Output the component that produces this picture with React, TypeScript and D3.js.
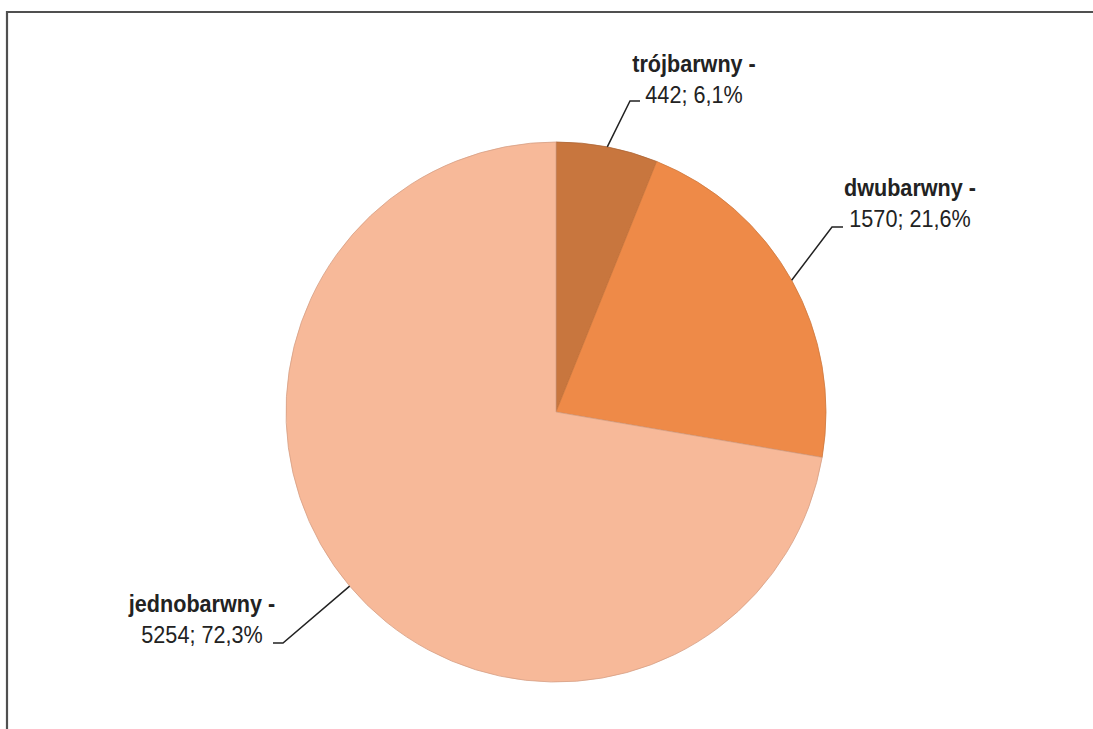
import React from "react";
import * as d3 from "d3";

const categories = ["trójbarwny", "dwubarwny", "jednobarwny"];
const values = [442, 1570, 5254];
const percents = ["6,1%", "21,6%", "72,3%"];
const colors = ["#C8763E", "#EE8A48", "#F7B999"];

const W = 1093;
const H = 729;
const cx = 556;
const cy = 412;
const R = 270;

// label layout: text center x, baseline of first line, leader elbow and end
const labelLayout = [
  { tx: 694, ty: 72, elbow: [630, 101], end: [640, 101] },
  { tx: 910, ty: 196, elbow: [832, 227], end: [843, 227] },
  { tx: 202, ty: 612, elbow: [283, 643], end: [273, 643] },
];

export default function App() {
  const pie = d3.pie<number>().sort(null).value((d) => d);
  const arcs = pie(values);
  const arc = d3.arc<d3.PieArcDatum<number>>().innerRadius(0).outerRadius(R);
  const font = "'Liberation Sans Narrow', 'Arial Narrow', 'Liberation Sans', Arial, sans-serif";
  return (
    <svg
      width={W}
      height={H}
      style={{ position: "absolute", left: 0, top: 0, background: "#fff" }}
    >
      <path d={`M7,${H + 5} L7,12 L${W + 5},12`} fill="none" stroke="#505050" strokeWidth={2.2} />
      <g transform={`translate(${cx},${cy})`}>
        {arcs.map((a, i) => (
          <path key={i} d={arc(a) || ""} fill={colors[i]} stroke={d3.color(colors[i])!.darker(0.4).toString()} strokeWidth={0.8} />
        ))}
      </g>
      {arcs.map((a, i) => {
        const mid = (a.startAngle + a.endAngle) / 2;
        const px = cx + R * Math.sin(mid);
        const py = cy - R * Math.cos(mid);
        const L = labelLayout[i];
        return (
          <g key={i}>
            <polyline
              points={`${px},${py} ${L.elbow[0]},${L.elbow[1]} ${L.end[0]},${L.end[1]}`}
              fill="none"
              stroke="#222"
              strokeWidth={1.5}
            />
            <g transform={`translate(${L.tx},${L.ty}) scale(0.92,1)`}>
              <text x={0} y={0} textAnchor="middle" fontFamily={font} fontSize={23.5} fontWeight="bold" fill="#222">
                {categories[i]} -
              </text>
              <text x={0} y={31} textAnchor="middle" fontFamily={font} fontSize={23.5} fill="#222">
                {values[i]}; {percents[i]}
              </text>
            </g>
          </g>
        );
      })}
    </svg>
  );
}
